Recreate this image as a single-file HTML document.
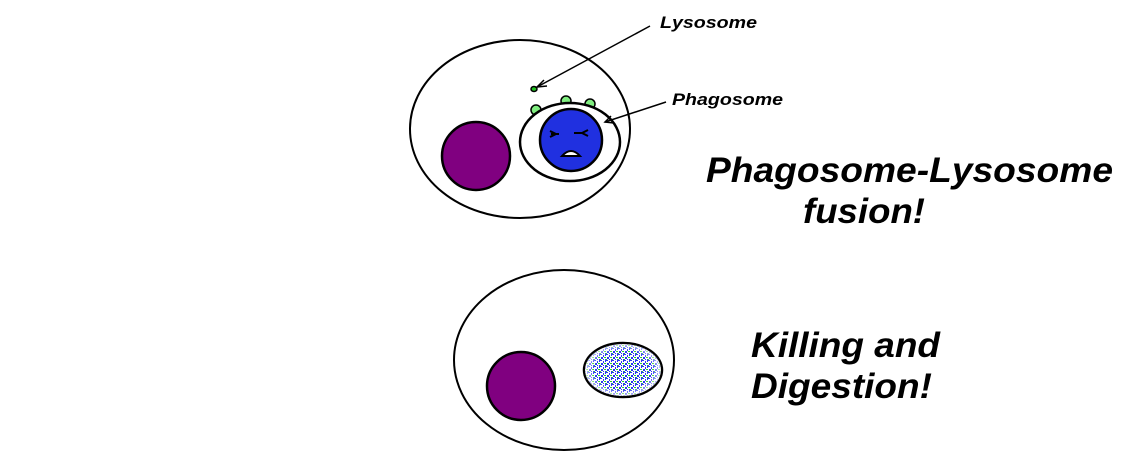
<!DOCTYPE html>
<html><head><style>body{margin:0;background:#fff}svg{display:block}</style></head><body>
<svg width="1124" height="468" xmlns="http://www.w3.org/2000/svg">
<defs>
<pattern id="spk" width="6" height="6" patternUnits="userSpaceOnUse">
<rect width="6" height="6" fill="#fff"/>
<rect x="0" y="0" width="2" height="1" fill="#2030f0"/><rect x="3" y="1" width="1" height="2" fill="#2030f0"/>
<rect x="4" y="3" width="2" height="1" fill="#20d020"/><rect x="1" y="3" width="2" height="2" fill="#2030f0"/>
<rect x="5" y="5" width="1" height="1" fill="#2030f0"/><rect x="3" y="5" width="1" height="1" fill="#2030f0"/>
<rect x="5" y="0" width="1" height="2" fill="#2030f0"/><rect x="0" y="5" width="1" height="1" fill="#20d020"/>
</pattern>
<radialGradient id="fade" cx="50%" cy="50%" r="50%">
<stop offset="0" stop-color="#fff" stop-opacity="0"/><stop offset="0.75" stop-color="#fff" stop-opacity="0.05"/><stop offset="1" stop-color="#fff" stop-opacity="0.75"/>
</radialGradient>
</defs>
<g fill="none" stroke="#000" stroke-width="2">
<ellipse cx="520" cy="129" rx="110" ry="89"/>
<ellipse cx="564" cy="360" rx="110" ry="90"/>
</g>
<circle cx="476" cy="156" r="34" fill="#800080" stroke="#000" stroke-width="2.5"/>
<circle cx="521" cy="386" r="34" fill="#800080" stroke="#000" stroke-width="2.5"/>
<g fill="#80ee80" stroke="#000" stroke-width="1.5">
<circle cx="536" cy="110" r="5"/><circle cx="566" cy="101" r="5"/><circle cx="590" cy="104" r="5"/>
</g>
<ellipse cx="570" cy="142" rx="50" ry="39" fill="#fff" stroke="#000" stroke-width="2.5"/>
<circle cx="571" cy="140" r="31" fill="#2030e0" stroke="#000" stroke-width="2.5"/>
<g stroke="#000" stroke-width="2" fill="none">
<path d="M550 131 l6 3 l-6 3 M551 134 h8"/>
<path d="M588 130 l-6 3 l6 3 M582 133 h-8"/>
</g>
<path d="M562 156 q9 -10 18 0 z" fill="#fff" stroke="#000" stroke-width="2"/>
<ellipse cx="534" cy="89" rx="3" ry="2.5" fill="#20c020" stroke="#000" stroke-width="1.5"/>
<ellipse cx="623" cy="370" rx="39" ry="27" fill="url(#spk)" stroke="#000" stroke-width="2.5"/>
<ellipse cx="623" cy="370" rx="38" ry="26" fill="url(#fade)"/>
<g stroke="#000" stroke-width="1.5" fill="none">
<line x1="650" y1="26" x2="537" y2="87"/>
<path d="M544 80 L537 87 L547 86"/>
<line x1="666" y1="102" x2="605" y2="122"/>
<path d="M611 116 L605 122 L614 123"/>
</g>
<g font-family="Liberation Sans, sans-serif" font-weight="bold" font-style="italic" fill="#000">
<text x="660" y="28" font-size="17" textLength="97" lengthAdjust="spacingAndGlyphs">Lysosome</text>
<text x="672" y="105" font-size="17" textLength="111" lengthAdjust="spacingAndGlyphs">Phagosome</text>
<text x="706" y="182" font-size="35" textLength="407" lengthAdjust="spacingAndGlyphs">Phagosome-Lysosome</text>
<text x="803" y="223" font-size="35" textLength="122" lengthAdjust="spacingAndGlyphs">fusion!</text>
<text x="751" y="357" font-size="35" textLength="189" lengthAdjust="spacingAndGlyphs">Killing and</text>
<text x="751" y="398" font-size="35" textLength="181" lengthAdjust="spacingAndGlyphs">Digestion!</text>
</g>
</svg>
</body></html>
